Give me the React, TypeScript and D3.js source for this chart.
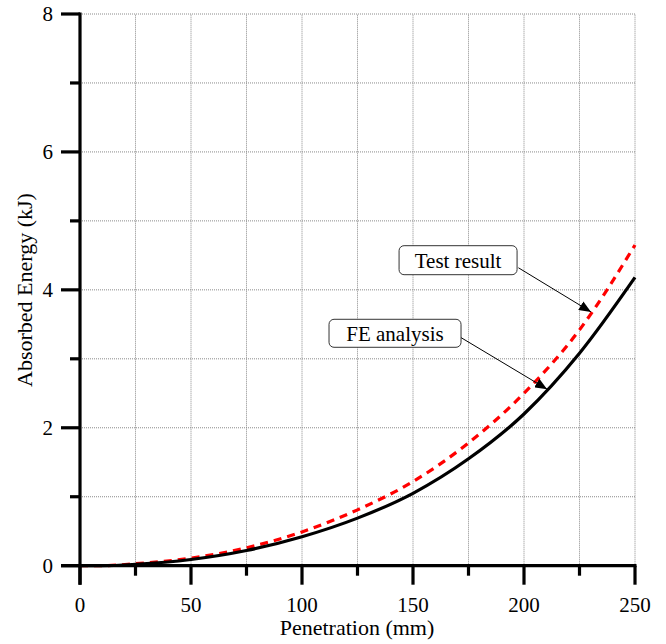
import React from "react";
import * as d3 from "d3";

const penetration = [0, 10, 25, 50, 75, 100, 125, 150, 175, 200, 225, 250];
const feAnalysis = [0, 0, 0.02, 0.09, 0.22, 0.42, 0.69, 1.05, 1.55, 2.2, 3.08, 4.18];
const testResult = [0, 0, 0.03, 0.11, 0.26, 0.49, 0.81, 1.22, 1.78, 2.5, 3.42, 4.65];

const xMajorTicks = [0, 50, 100, 150, 200, 250];
const xMinorTicks = [25, 75, 125, 175, 225];
const yMajorTicks = [0, 2, 4, 6, 8];
const yMinorTicks = [1, 3, 5, 7];
const xGrid = [25, 50, 75, 100, 125, 150, 175, 200, 225, 250];
const yGrid = [1, 2, 3, 4, 5, 6, 7, 8];

const annotations = [
  { label: "Test result", bx: 170.3, by: 4.43, w: 118, h: 29, sx: 197.5, sy: 4.32, tx: 230.2, ty: 3.68 },
  { label: "FE analysis", bx: 141.9, by: 3.37, w: 132, h: 28, sx: 171.5, sy: 3.31, tx: 210.4, ty: 2.56 },
];

const FONT = "Liberation Serif, Tinos, Times New Roman, DejaVu Serif, serif";

export default function App() {
  const W = 666, H = 644;
  const x = d3.scaleLinear().domain([0, 250]).range([80, 635]);
  const y = d3.scaleLinear().domain([0, 8]).range([565.7, 14]);
  const line = d3
    .line<[number, number]>()
    .x((d) => x(d[0]))
    .y((d) => y(d[1]))
    .curve(d3.curveMonotoneX);
  const feData = penetration.map((p, i) => [p, feAnalysis[i]] as [number, number]);
  const testData = penetration.map((p, i) => [p, testResult[i]] as [number, number]);
  const ts = { fontFamily: FONT };

  return (
    <svg width={W} height={H} style={{ position: "absolute", left: 0, top: 0, background: "#fff", fontFamily: FONT }}>
      <defs>
        <marker id="arr" viewBox="0 0 12 10" refX="12" refY="5" markerWidth="12" markerHeight="10" markerUnits="userSpaceOnUse" orient="auto">
          <path d="M0,0 L12,5 L0,10 Z" fill="#000" />
        </marker>
      </defs>
      <rect x={0} y={0} width={W} height={H} fill="#fff" />
      {xGrid.map((v) => (
        <line key={"gx" + v} x1={x(v)} x2={x(v)} y1={y(0)} y2={y(8)} stroke="#8a8a8a" strokeWidth={1} strokeDasharray="1,1" />
      ))}
      {yGrid.map((v) => (
        <line key={"gy" + v} x1={x(0)} x2={x(250)} y1={y(v)} y2={y(v)} stroke="#8a8a8a" strokeWidth={1} strokeDasharray="1,1" />
      ))}
      <path d={line(testData) || ""} fill="none" stroke="#ff0000" strokeWidth={3.2} strokeDasharray="8,6" />
      <path d={line(feData) || ""} fill="none" stroke="#000" strokeWidth={3.2} />
      <line x1={x(0)} x2={x(0)} y1={y(8) - 1.5} y2={y(0) + 19} stroke="#000" strokeWidth={3.2} />
      <line x1={x(0) - 19} x2={x(250) + 1.5} y1={y(0)} y2={y(0)} stroke="#000" strokeWidth={3.2} />
      {yMajorTicks.map((v) => (
        <line key={"ym" + v} x1={x(0) - 19} x2={x(0)} y1={y(v)} y2={y(v)} stroke="#000" strokeWidth={3.2} />
      ))}
      {yMinorTicks.map((v) => (
        <line key={"yn" + v} x1={x(0) - 10} x2={x(0)} y1={y(v)} y2={y(v)} stroke="#000" strokeWidth={3.2} />
      ))}
      {xMajorTicks.map((v) => (
        <line key={"xm" + v} x1={x(v)} x2={x(v)} y1={y(0)} y2={y(0) + 19} stroke="#000" strokeWidth={3.2} />
      ))}
      {xMinorTicks.map((v) => (
        <line key={"xn" + v} x1={x(v)} x2={x(v)} y1={y(0)} y2={y(0) + 10} stroke="#000" strokeWidth={3.2} />
      ))}
      {yMajorTicks.map((v) => (
        <text key={"yl" + v} x={x(0) - 27} y={y(v)} dy="0.35em" textAnchor="end" style={ts} fontSize={21}>
          {v}
        </text>
      ))}
      {xMajorTicks.map((v) => (
        <text key={"xl" + v} x={x(v)} y={612} textAnchor="middle" style={ts} fontSize={21}>
          {v}
        </text>
      ))}
      <text x={357} y={635} textAnchor="middle" style={ts} fontSize={22}>
        Penetration (mm)
      </text>
      <text transform="translate(32,290) rotate(-90)" textAnchor="middle" style={ts} fontSize={22}>
        Absorbed Energy (kJ)
      </text>
      {annotations.map((a) => (
        <g key={a.label}>
          <line x1={x(a.sx)} y1={y(a.sy)} x2={x(a.tx)} y2={y(a.ty)} stroke="#000" strokeWidth={1} markerEnd="url(#arr)" />
          <rect x={x(a.bx) - a.w / 2} y={y(a.by) - a.h / 2} width={a.w} height={a.h} rx={5} fill="#fff" stroke="#333" strokeWidth={1} />
          <text x={x(a.bx)} y={y(a.by)} dy="0.35em" textAnchor="middle" style={ts} fontSize={21}>
            {a.label}
          </text>
        </g>
      ))}
    </svg>
  );
}
